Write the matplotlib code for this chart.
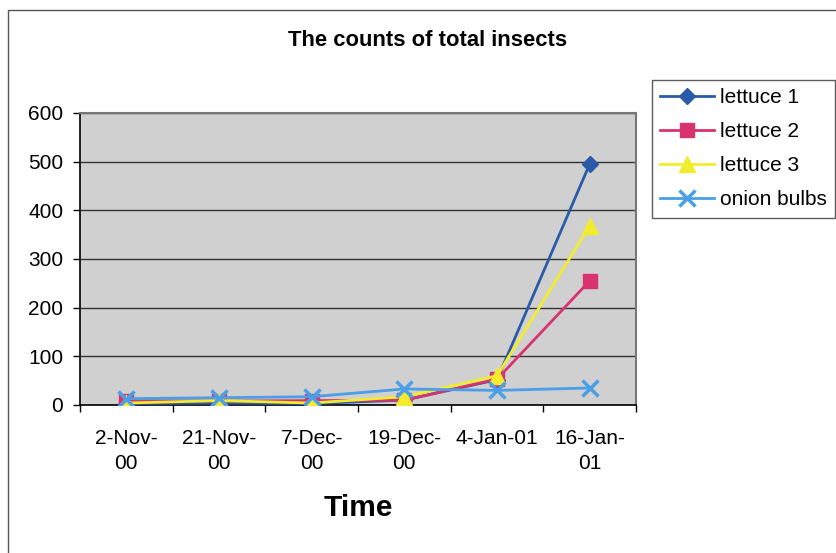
import matplotlib
matplotlib.use("Agg")
import matplotlib.pyplot as plt
from matplotlib.patches import Rectangle

categories = ["2-Nov-\n00", "21-Nov-\n00", "7-Dec-\n00", "19-Dec-\n00", "4-Jan-01", "16-Jan-\n01"]
lettuce1 = [3, 4, 3, 10, 52, 495]
lettuce2 = [9, 8, 9, 10, 53, 255]
lettuce3 = [4, 9, 4, 17, 60, 368]
onion = [13, 15, 17, 33, 30, 35]
yticks = [0, 100, 200, 300, 400, 500, 600]

plt.rcParams['font.family'] = ['Liberation Sans', 'DejaVu Sans']

fig = plt.figure(figsize=(8.37, 5.53), dpi=100)
fig.patch.set_facecolor('white')

# outer chart border
fig.add_artist(Rectangle((8/837, -0.05), 1.0, 1 - 10/553 + 0.05, transform=fig.transFigure,
                         fill=False, edgecolor='#555555', linewidth=1.0))

ax = fig.add_axes([80/837, 1 - 405/553, (636-80)/837, (405-113)/553])
ax.set_facecolor('#d0d0d0')

x = list(range(len(categories)))
ax.plot(x, lettuce1, color='#2b5ba8', marker='D', markersize=8, linewidth=2, label='lettuce 1', zorder=3)
ax.plot(x, lettuce2, color='#d8336e', marker='s', markersize=10, linewidth=2, label='lettuce 2', zorder=3)
ax.plot(x, lettuce3, color='#f2ec2e', marker='^', markersize=11, linewidth=2, label='lettuce 3', zorder=3)
ax.plot(x, onion, color='#4a9fe6', marker='x', markersize=11, markeredgewidth=2.5, linewidth=2,
        label='onion bulbs', zorder=4)

ax.set_xlim(-0.5, len(categories) - 0.5)
ax.set_ylim(0, 600)
ax.set_yticks(yticks)
ax.set_yticklabels([str(v) for v in yticks], fontsize=15)
ax.set_xticks(x)
ax.set_xticklabels(categories, fontsize=15, linespacing=1.45)
ax.set_xticks([i - 0.5 for i in range(len(categories) + 1)], minor=True)
ax.tick_params(axis='x', which='major', length=0, pad=17)
ax.tick_params(axis='x', which='minor', length=5, direction='out', width=1)
ax.tick_params(axis='y', length=5, direction='out', width=1, pad=7)
ax.grid(axis='y', color='#333333', linewidth=1)
ax.set_axisbelow(True)
for s in ['left', 'bottom']:
    ax.spines[s].set_color('black')
    ax.spines[s].set_linewidth(1.2)
for s in ['top', 'right']:
    ax.spines[s].set_color('#777777')
    ax.spines[s].set_linewidth(1.5)

fig.text(428/837, 1 - 41/553, 'The counts of total insects', ha='center', va='center',
         fontsize=15.8, fontweight='bold')
fig.text(358/837, 1 - 508/553, 'Time', ha='center', va='center', fontsize=21.5, fontweight='bold')

leg = ax.legend(loc='upper left', bbox_to_anchor=(652/837, 1 - 80/553), bbox_transform=fig.transFigure,
                fontsize=15, frameon=True, fancybox=False, edgecolor='#333333', borderpad=0.4,
                handlelength=2.6, handletextpad=0.25, labelspacing=0.72, borderaxespad=0)
leg.get_frame().set_linewidth(1)

fig.savefig('out.png', dpi=100, facecolor='white')
